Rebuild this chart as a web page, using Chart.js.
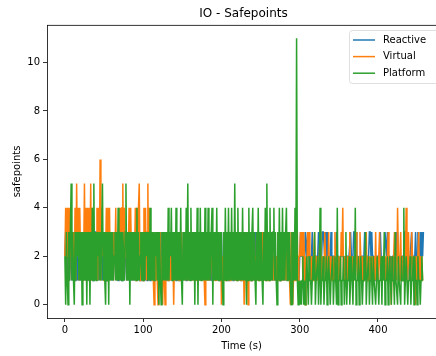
<!DOCTYPE html>
<html>
<head>
<meta charset="utf-8">
<script src="https://cdn.jsdelivr.net/npm/chart.js@4"></script>
<style>
  body { margin: 0; background: #fff; }
  canvas { display: block; }
</style>
</head>
<body>
<canvas id="chart" width="436" height="356"></canvas>
<script>
// safepoints sampled once per second, one row per 40 s
let reactive = [
    2,3,1,2,1,3,1,2,2,1, 3,1,2,1,2,3,1,3,1,2, 1,3,2,3,1,2,1,2,3,1, 2,1,3,1,3,2,1,2,1,3,
    3,1,2,1,2,3,2,1,3,1, 2,3,1,2,1,2,1,3,2,3, 1,2,1,3,2,3,1,2,1,2, 3,1,2,1,3,2,1,2,3,1,
    2,1,3,1,2,1,3,1,2,1, 3,2,1,3,1,2,1,3,1,2, 1,2,3,1,2,1,3,1,2,1, 2,3,1,3,1,2,1,2,3,1,
    3,1,2,1,3,1,2,2,1,3, 1,2,1,3,1,2,1,3,2,1, 2,3,1,2,1,3,1,2,1,3, 1,2,1,3,2,1,2,1,3,1,
    3,1,2,1,3,2,1,2,1,3, 2,1,3,1,2,1,3,1,2,1, 1,3,1,2,1,3,1,2,1,3, 2,1,2,1,3,1,3,1,2,1,
    3,1,2,1,2,1,3,1,2,1, 1,2,3,1,2,1,3,1,2,1, 2,1,3,1,2,1,2,1,3,1, 3,1,2,1,3,2,1,2,1,3,
    1,2,1,3,1,2,1,3,2,1, 2,3,1,2,1,2,1,3,1,2, 1,2,1,3,2,1,2,1,3,1, 2,1,3,1,2,1,3,1,2,1,
    3,1,2,1,3,1,2,1,2,1, 2,1,3,1,2,1,3,1,2,1, 2,3,2,2,3,2,1,3,3,2, 3,2,2,1,2,2,3,2,2,1,
    2,2,1,2,3,2,2,1,2,3, 3,3,2,3,2,3,2,2,1,2, 3,2,1,2,2,1,2,3,2,2, 2,1,2,2,3,2,2,1,2,1,
    2,2,1,2,2,3,2,1,2,3, 3,2,3,2,2,1,2,2,1,2, 2,1,2,3,2,2,1,2,2,3, 3,2,3,2,2,1,2,1,2,2,
    1,2,2,3,2,2,1,2,2,3, 3,2,3,2,2,2,1,2,1,2, 2,1,2,3,2,3,2,2,1,2, 2,2,1,2,3,3,2,3,2,2,
    1,2,2,3,2,2,1,2,3,2, 2,3,2,2,3,2,3,2,3
];
let virtual = [
    2,4,1,4,2,4,1,4,2,3, 2,3,1,4,1,5,2,4,1,4, 2,3,1,3,2,5,1,4,2,4, 1,4,2,5,1,4,2,3,1,3,
    2,4,1,4,2,6,1,4,2,3, 1,3,2,4,1,4,2,4,1,3, 2,3,1,3,2,4,1,3,2,4, 1,4,2,4,5,1,4,2,3,1,
    3,2,4,1,4,2,3,1,3,2, 4,1,4,2,4,5,1,3,2,3, 1,4,2,4,1,3,5,1,4,2, 3,1,3,1,0,2,1,3,1,0,
    2,1,3,1,2,0,3,1,0,2, 3,2,1,3,1,2,1,3,2,0, 2,1,3,2,1,3,1,2,1,3, 1,2,3,1,3,2,1,2,1,3,
    2,3,1,2,1,3,2,1,3,1, 3,1,2,1,3,2,1,3,1,0, 2,3,1,3,1,2,1,3,2,1, 3,2,1,2,1,3,1,2,1,3,
    0,2,1,3,1,2,1,3,2,1, 2,1,3,1,2,3,1,2,1,3, 1,3,2,1,2,1,3,1,2,0, 0,2,1,3,0,2,1,3,1,2,
    1,3,1,2,1,3,1,2,1,3, 2,1,3,1,2,1,3,1,2,1, 3,1,2,1,3,1,2,1,3,1, 2,1,3,1,2,1,3,1,2,1,
    3,1,2,1,3,1,2,1,0,3, 2,0,1,3,1,2,1,3,1,2, 2,3,2,3,1,3,2,0,2,1, 3,2,3,1,2,1,2,1,2,3,
    1,2,1,2,1,2,3,1,2,1, 2,1,3,2,1,2,1,3,1,2, 1,2,1,2,1,3,1,2,1,2, 1,2,1,3,2,4,1,2,1,2,
    1,2,1,2,3,1,2,1,2,1, 2,1,3,2,1,2,1,3,2,1, 2,1,2,1,2,3,1,2,1,2, 1,2,1,2,1,2,1,3,1,2,
    1,2,3,1,2,1,2,1,2,1, 2,1,2,3,1,2,1,0,2,1, 2,3,1,2,1,4,2,1,2,3, 1,2,1,2,1,2,4,1,2,3,
    1,2,1,3,2,1,2,1,0,2, 1,2,3,1,2,1,2,1
];
let platform = [
    2,0,3,1,0,3,1,3,5,1, 3,1,0,3,1,3,2,3,1,3, 1,3,0,3,1,3,1,3,0,3, 1,3,0,3,1,4,1,5,1,3,
    1,3,2,3,1,3,1,3,5,1, 3,1,0,3,1,3,0,3,1,3, 1,3,1,2,3,1,3,1,4,1, 3,1,3,1,3,2,1,3,5,1,
    3,1,3,0,3,1,3,1,3,1, 3,1,4,1,3,1,2,3,1,3, 1,3,1,3,2,3,1,3,1,4, 1,3,1,3,1,3,2,3,1,3,
    0,3,1,0,3,1,3,1,3,1, 3,1,4,1,3,2,4,1,3,1, 3,1,4,1,3,1,3,1,4,1, 0,3,1,3,1,4,1,5,1,3,
    1,4,1,3,1,3,0,3,1,4, 0,3,1,4,1,3,1,3,1,4, 1,3,1,4,1,3,1,3,4,0, 3,1,3,1,4,1,3,1,3,1,
    3,1,0,3,1,4,1,3,1,4, 1,3,1,4,1,3,1,5,1,3, 1,4,1,3,1,3,1,4,1,3, 1,3,0,3,1,4,1,3,1,3,
    4,1,3,1,0,3,1,4,1,3, 1,3,1,0,3,1,4,1,5,1, 3,1,4,1,3,1,3,4,1,3, 1,0,3,1,4,1,3,1,4,1,
    3,1,3,4,1,3,1,3,1,0, 3,0,3,1,4,1,11,1,0,1, 0,1,0,1,2,0,1,0,1,2, 1,0,2,1,1,0,1,2,1,3,
    0,1,1,2,0,1,4,0,1,1, 2,0,1,1,2,0,1,2,1,0, 1,1,2,0,1,2,1,0,4,0, 1,1,2,0,1,1,2,0,1,3,
    0,1,1,2,0,1,2,1,0,2, 1,4,0,1,1,2,0,1,2,1, 0,1,2,1,3,0,1,1,2,0, 1,2,1,0,2,1,1,0,1,2,
    2,0,1,1,2,0,2,1,3,0, 1,1,2,0,1,2,1,0,2,1, 1,0,3,1,1,0,2,1,1,0, 2,1,1,4,0,1,2,2,0,1,
    1,2,0,1,1,2,0,2,1,1, 0,2,1,1,0,1,2,1
];
let seconds = reactive.map((v, i) => i);
let xTicks = [0, 100, 200, 300, 400];
let yTicks = [0, 2, 4, 6, 8, 10];

let font = { family: "DejaVu Sans", size: 10 };

// title, top spine and the boxed legend inside the axes
let decorations = {
    id: "decorations",
    afterDraw(chart) {
        let c = chart.ctx;
        let area = chart.chartArea;
        c.save();
        c.strokeStyle = "#000";
        c.lineWidth = 0.8;
        c.beginPath();
        c.moveTo(area.left, area.top + 0.4);
        c.lineTo(area.right, area.top + 0.4);
        c.stroke();

        c.fillStyle = "#000";
        c.font = "12px 'DejaVu Sans'";
        c.textAlign = "center";
        c.textBaseline = "middle";
        c.fillText("IO - Safepoints", 243.5, 14);

        let x = 349.5, y = 30.5, w = 90, h = 53, r = 3;
        c.beginPath();
        c.roundRect(x, y, w, h, r);
        c.fillStyle = "rgba(255,255,255,0.8)";
        c.fill();
        c.strokeStyle = "rgba(204,204,204,0.8)";
        c.lineWidth = 0.8;
        c.stroke();

        c.font = "10px 'DejaVu Sans'";
        c.textAlign = "left";
        chart.data.datasets.forEach((ds, i) => {
            let ly = 40 + i * 16.6;
            c.strokeStyle = ds.borderColor;
            c.lineWidth = 1.5;
            c.beginPath();
            c.moveTo(353, ly);
            c.lineTo(375, ly);
            c.stroke();
            c.fillStyle = "#000";
            c.fillText(ds.label, 383, ly);
        });
        c.restore();
    }
};

function series(label, values, color, order) {
    return {
        label: label,
        data: values,
        borderColor: color,
        backgroundColor: color,
        borderWidth: 1.5,
        pointRadius: 0,
        tension: 0,
        fill: false,
        order: order
    };
}

let chart = new Chart(document.getElementById("chart"), {
    type: "line",
    data: {
        labels: seconds,
        datasets: [
            series("Reactive", reactive, "#1f77b4", 3),
            series("Virtual", virtual, "#ff7f0e", 2),
            series("Platform", platform, "#2ca02c", 1)
        ]
    },
    options: {
        animation: false,
        responsive: false,
        devicePixelRatio: 1,
        layout: { padding: { top: 25, left: 0, right: 0, bottom: 0 } },
        plugins: {
            legend: { display: false },
            title: { display: false },
            tooltip: { enabled: false }
        },
        scales: {
            x: {
                type: "linear",
                min: -22.85,
                max: 474.1,
                afterFit: s => { s.height = 38; },
                afterBuildTicks: s => { s.ticks = xTicks.map(v => ({ value: v })); },
                ticks: { font: font, color: "#000", padding: 2, maxRotation: 0, autoSkip: false },
                grid: { drawOnChartArea: false, color: "#000", lineWidth: 0.8, tickLength: 4 },
                border: { color: "#000", width: 0.8 },
                title: { display: true, text: "Time (s)", font: font, color: "#000", padding: { top: 2, bottom: 4 } }
            },
            y: {
                min: -0.55,
                max: 11.55,
                afterFit: s => { s.width = 47; },
                afterBuildTicks: s => { s.ticks = yTicks.map(v => ({ value: v })); },
                ticks: { font: font, color: "#000", padding: 3, autoSkip: false },
                grid: { drawOnChartArea: false, color: "#000", lineWidth: 0.8, tickLength: 4 },
                border: { color: "#000", width: 0.8 },
                title: { display: true, text: "safepoints", font: font, color: "#000", padding: { top: 11, bottom: 2 } }
            }
        }
    },
    plugins: [decorations]
});
</script>
</body>
</html>
